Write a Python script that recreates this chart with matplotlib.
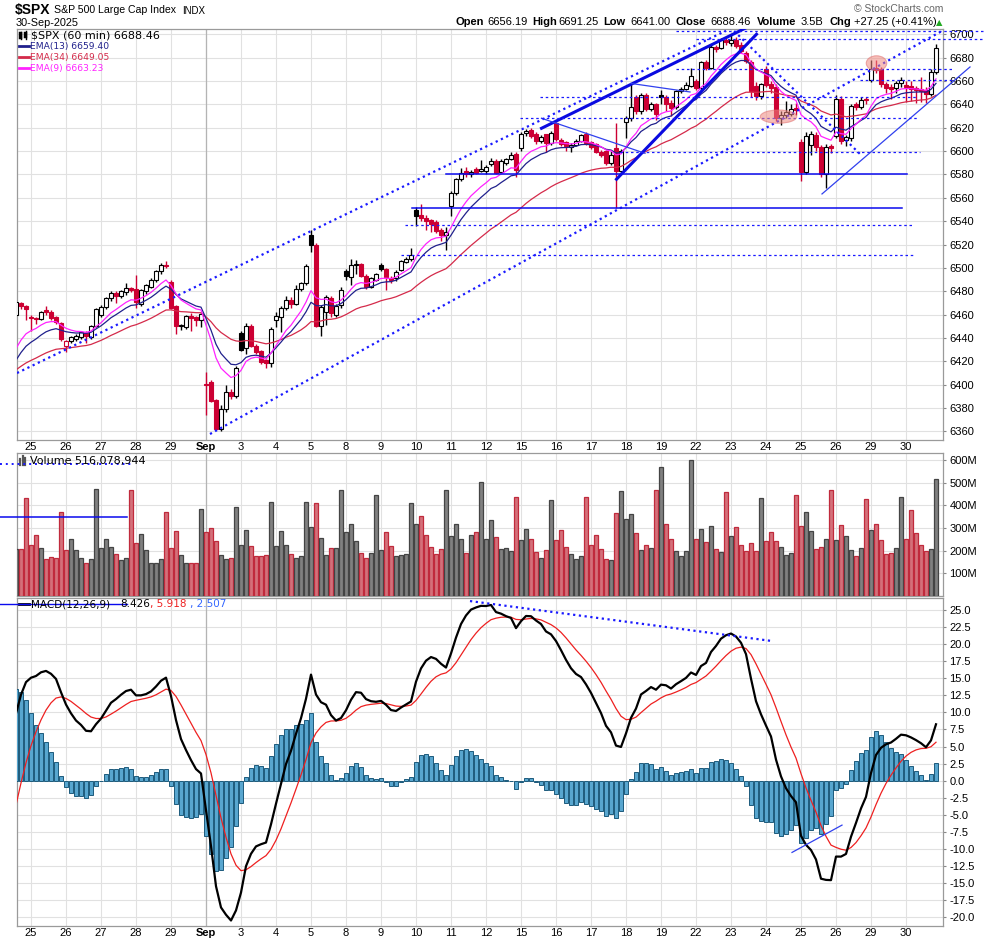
import numpy as np
import matplotlib.pyplot as plt
from matplotlib.lines import Line2D
from matplotlib.patches import Ellipse

plt.rcParams['font.family'] = ['Liberation Sans', 'DejaVu Sans']
plt.rcParams['axes.unicode_minus'] = False

# $SPX 60 min bars: last 3 of 22-Aug, then 25-Aug .. 30-Sep (7 per day)
opens = [6460, 6470, 6467,
         6458, 6457, 6456, 6464, 6462.5, 6458, 6453,
         6433, 6437.7, 6439.5, 6440.5, 6444.5, 6441, 6450.3,
         6460, 6466.8, 6474, 6478.8, 6475.7, 6479, 6483,
         6482, 6469, 6480, 6484, 6490, 6497, 6502.5,
         6487.5, 6467, 6450, 6449.7, 6459, 6458, 6455.4,
         6401, 6402.5, 6387, 6362.5, 6379, 6393.5, 6390.6,
         6444.5, 6431, 6450.5, 6433.4, 6429, 6421, 6418.3,
         6455, 6458.3, 6465.4, 6472.5, 6469, 6481.8, 6486.9,
         6528, 6519.6, 6450.5, 6462, 6474, 6460, 6468,
         6497.6, 6492.5, 6502.5, 6503.3, 6493, 6484, 6490,
         6502.5, 6498.8, 6491, 6491, 6498, 6505.3, 6507.4,
         6549.6, 6545, 6543, 6541, 6539.6, 6532.5, 6528.2,
         6553, 6564, 6576, 6583, 6580, 6584.6, 6583.2,
         6583, 6588.9, 6591.8, 6582, 6590, 6593, 6597.5,
         6602.4, 6615.2, 6618, 6614.6, 6609, 6614.6, 6606.7,
         6623.8, 6609.5, 6608, 6603.5, 6605, 6609, 6614.4,
         6608, 6606, 6599.5, 6600, 6590, 6602.4, 6583,
         6625.2, 6628, 6646, 6634, 6648, 6636, 6640,
         6648, 6646, 6641, 6638, 6651.5, 6653, 6656,
         6660, 6654, 6676, 6671.4, 6689.4, 6688, 6695.5,
         6692.5, 6695, 6691, 6684, 6676, 6656, 6647,
         6670, 6657, 6655, 6628.6, 6631, 6632, 6637,
         6608, 6582, 6605, 6613.8, 6603.8, 6580.4, 6604,
         6613, 6645, 6609.5, 6611, 6640, 6638, 6644,
         6661, 6671, 6670.3, 6657.2, 6655, 6653.8, 6658,
         6656.2, 6656, 6654, 6653, 6652.3, 6648.6, 6668]
highs = [6472, 6471, 6468,
         6460, 6458, 6463, 6467, 6464, 6459, 6454,
         6438, 6442, 6443, 6446, 6446, 6451, 6466,
         6468, 6475, 6480, 6480, 6481, 6487, 6484,
         6494, 6482, 6486, 6491, 6498, 6504, 6506,
         6490, 6468, 6452, 6460, 6461, 6459, 6462,
         6411, 6404, 6388, 6382.6, 6400, 6396, 6416,
         6446, 6452.6, 6452, 6435, 6430, 6422, 6449,
         6462, 6467, 6476, 6475, 6485, 6488, 6503,
         6532.4, 6521, 6468, 6477, 6476, 6469, 6484,
         6499, 6507.4, 6507, 6504, 6495, 6492, 6496,
         6504, 6500, 6493, 6498, 6507, 6509, 6516.8,
         6552, 6554.7, 6545, 6542, 6541, 6534, 6535,
         6566, 6577, 6585.3, 6586, 6584, 6586, 6592.4,
         6588, 6594, 6593, 6593, 6594, 6599.5, 6599,
         6616, 6619, 6620, 6616, 6614, 6615, 6617,
         6625.2, 6611, 6609, 6607, 6610, 6615, 6616,
         6609, 6607, 6601, 6601, 6600, 6623.8, 6602,
         6630, 6657.5, 6648, 6650, 6650, 6642, 6641,
         6652, 6648, 6644, 6652, 6655, 6659, 6671,
         6662, 6677, 6678, 6691, 6691, 6697, 6697,
         6699.4, 6698, 6693, 6686, 6678, 6659, 6658,
         6673, 6660, 6657, 6634, 6643, 6640, 6641,
         6610, 6616, 6617, 6616, 6605, 6606, 6606,
         6648, 6647, 6614, 6640, 6642, 6646, 6646,
         6678, 6678, 6672, 6659, 6657, 6660, 6663,
         6660, 6660, 6656, 6663, 6655, 6670, 6691.25]
lows = [6458, 6465, 6455,
        6446, 6452, 6455, 6460, 6455, 6452, 6437,
        6428, 6436, 6437, 6439, 6436, 6439, 6449,
        6458, 6465, 6472, 6470, 6474, 6477, 6479,
        6466, 6467, 6478, 6483, 6488, 6495, 6500,
        6465, 6443, 6447, 6448, 6446, 6450, 6449,
        6374, 6385, 6361, 6360, 6377, 6388, 6389,
        6429, 6426, 6432, 6426, 6417.5, 6414, 6415,
        6449, 6445, 6464, 6466, 6468, 6480, 6485,
        6513.9, 6449.7, 6442, 6451, 6458, 6458, 6466,
        6490, 6485.4, 6495, 6492, 6481.7, 6483, 6489,
        6497, 6481, 6486.8, 6489, 6497, 6504, 6506,
        6536, 6540, 6532.5, 6531, 6530, 6523.3, 6515,
        6544, 6562, 6574, 6578, 6578, 6580, 6582,
        6580, 6587, 6580, 6581, 6588, 6592, 6578,
        6600, 6613, 6611, 6606, 6607, 6599.5, 6605,
        6609, 6604, 6600, 6599.5, 6604, 6608, 6605,
        6602, 6598, 6595, 6588, 6588, 6551, 6581,
        6611, 6626, 6632, 6632, 6634, 6634, 6627,
        6640, 6634, 6630, 6636, 6650, 6652, 6655,
        6652, 6652, 6669, 6670, 6685, 6687, 6691,
        6690, 6688, 6684, 6675, 6646, 6644, 6645,
        6655, 6650, 6626, 6622.3, 6628, 6630, 6631,
        6574.4, 6580, 6597, 6600, 6578, 6568, 6598,
        6611, 6606, 6604, 6609, 6635, 6636, 6640,
        6659, 6667, 6655, 6650, 6645, 6650, 6655,
        6642.3, 6643, 6641, 6642, 6641, 6647, 6666]
closes = [6471, 6467, 6465,
          6457, 6456, 6462.5, 6462, 6457, 6454, 6439,
          6437.5, 6440.6, 6441.5, 6445, 6441.7, 6450.3, 6465,
          6466.3, 6474, 6478.8, 6475.7, 6480, 6482.5, 6481.4,
          6471, 6481, 6485, 6490, 6497, 6502.5, 6501.9,
          6466, 6450, 6451, 6459, 6457, 6455.4, 6460.5,
          6399.5, 6386, 6362.5, 6379, 6393.5, 6390.6, 6414.5,
          6430, 6450.5, 6433.4, 6427.7, 6419.7, 6418.3, 6448,
          6458.8, 6465.4, 6472.5, 6469, 6481.8, 6486.9, 6501.5,
          6519.6, 6450.5, 6466.8, 6475, 6461, 6467.4, 6481.1,
          6493, 6502.5, 6503.3, 6493, 6484, 6491, 6494.6,
          6498.8, 6492, 6489.5, 6496.8, 6506, 6508, 6511,
          6544.5, 6542.5, 6540, 6538, 6532, 6528.2, 6530.8,
          6564.4, 6575.9, 6581, 6580.5, 6582.4, 6581.5, 6585,
          6586, 6591.8, 6581, 6591.8, 6593, 6596.7, 6584,
          6614.6, 6617.5, 6613, 6609, 6612, 6606.7, 6615.2,
          6610.1, 6606, 6604, 6605, 6609, 6613.8, 6607,
          6603.8, 6599.5, 6597, 6589.6, 6597, 6583.2, 6600.4,
          6628, 6638, 6634, 6648, 6636, 6640, 6631.5,
          6646.5, 6640, 6637, 6651.5, 6653, 6656.6, 6664,
          6654, 6676, 6671.4, 6689.4, 6687.5, 6695, 6693.75,
          6695, 6690.2, 6686, 6677, 6651, 6647, 6657,
          6656.6, 6654, 6628.1, 6631, 6633.5, 6636, 6635.5,
          6582.4, 6613, 6615, 6603.8, 6580.4, 6603.8, 6603,
          6644.5, 6609, 6612.3, 6638.6, 6638, 6643.8, 6643.7,
          6670.3, 6669.5, 6657.2, 6654, 6653, 6658, 6661.2,
          6655, 6653, 6652, 6651, 6648.9, 6668, 6688.46]
volume_m = [206, 206, 434,
            226, 271, 210, 162, 174, 169, 372,
            201, 253, 201, 166, 144, 162, 474,
            210, 253, 218, 187, 157, 166, 466,
            235, 275, 201, 147, 144, 162, 372,
            210, 285, 182, 144, 147, 144, 385,
            281, 301, 241, 182, 162, 169, 394,
            226, 293, 222, 178, 178, 182, 416,
            222, 288, 226, 187, 166, 178, 416,
            306, 409, 257, 182, 210, 213, 466,
            284, 319, 241, 191, 166, 191, 444,
            201, 281, 222, 175, 179, 187, 409,
            319, 354, 268, 218, 187, 209, 466,
            266, 319, 253, 191, 271, 283, 504,
            250, 334, 259, 206, 210, 197, 435,
            246, 294, 250, 193, 166, 203, 422,
            246, 290, 215, 184, 162, 175, 435,
            224, 268, 206, 162, 157, 365, 462,
            338, 360, 276, 201, 224, 210, 466,
            568, 316, 250, 197, 175, 197, 598,
            250, 294, 237, 307, 206, 193, 457,
            263, 303, 224, 197, 232, 197, 431,
            241, 281, 241, 215, 179, 188, 444,
            307, 371, 285, 206, 215, 250, 466,
            246, 312, 263, 201, 175, 210, 426,
            290, 316, 246, 184, 188, 210, 435,
            250, 378, 276, 224, 197, 206, 516]
day_labels = ['25', '26', '27', '28', '29', 'Sep', '3', '4', '5', '8', '9', '10', '11',
              '12', '15', '16', '17', '18', '19', '22', '23', '24', '25', '26', '29', '30']

# indicator values at the first visible bar
ema9_start, ema13_start, ema34_start = 6431.0, 6421.0, 6412.7
ema12_start, ema26_start, signal_start = 6423.5, 6413.65, -3.56

W, H = 990, 941
RED = '#cc0033'
BLUE = '#1a1aff'


def ema(vals, n, start):
    k = 2.0 / (n + 1)
    out = [start]
    for v in vals[1:]:
        out.append(out[-1] + k * (v - out[-1]))
    return np.array(out)


o = np.array(opens, float)
h = np.array(highs, float)
l = np.array(lows, float)
c = np.array(closes, float)
idx = np.arange(len(c))
prev = np.r_[c[0], c[:-1]]
down = c < prev
day_pos = [3 + 7 * d for d in range(len(day_labels))]

ema9 = ema(c, 9, ema9_start)
ema13 = ema(c, 13, ema13_start)
ema34 = ema(c, 34, ema34_start)
macd = ema(c, 12, ema12_start) - ema(c, 26, ema26_start)
signal = ema(macd, 9, signal_start)
hist = macd - signal

fig = plt.figure(figsize=(W / 100, H / 100), dpi=100)


def panel(top, bottom):
    ax = fig.add_axes([17 / W, 1 - bottom / H, 926 / W, (bottom - top) / H])
    ax.set_xlim(0.2, 185.4)
    for s in ax.spines.values():
        s.set_color('#9a9a9a')
        s.set_linewidth(0.9)
    ax.set_xticks(day_pos)
    ax.set_xticklabels(day_labels)
    for t in ax.get_xticklabels():
        if t.get_text() == 'Sep':
            t.set_fontweight('bold')
    ax.tick_params(axis='x', length=0, pad=1.5, labelsize=8)
    ax.tick_params(axis='y', left=False, labelleft=False, right=True, labelright=True,
                   length=2.5, color='#888888', labelsize=8, pad=2)
    ax.grid(True, color='#e1e1e1', lw=0.8)
    ax.set_axisbelow(True)
    ax.axvline(day_pos[5], color='#b4b4b4', lw=0.9, zorder=0.8)
    return ax


def fline(x0, y0, x1, y1, **kw):
    fig.add_artist(Line2D([x0 / W, x1 / W], [1 - y0 / H, 1 - y1 / H],
                          transform=fig.transFigure, **kw))


def ftext(x, y, s, **kw):
    kw.setdefault('va', 'center')
    fig.text(x / W, 1 - y / H, s, **kw)


# ---------------- price panel ----------------
ax = panel(29, 439.5)
ax.set_ylim(6353.1, 6704.5)
ax.set_yticks(np.arange(6360, 6701, 20))

col = np.where(down, RED, 'black')
ax.vlines(idx, l, h, colors=col, lw=1, zorder=2)
face = np.where(c >= o, 'white', col)
bot = np.minimum(o, c)
hgt = np.maximum(np.abs(c - o), 0.8)
ax.bar(idx, hgt, bottom=bot, width=0.72, color=face, edgecolor=col, lw=0.8, zorder=3)

ax.plot(idx, ema34, color='#d42a4a', lw=0.9, zorder=4)
ax.plot(idx, ema13, color='#20208c', lw=0.9, zorder=4)
ax.plot(idx, ema9, color='#ff22ff', lw=0.9, zorder=4)

dot = dict(color=BLUE, lw=1.6, ls=(0, (1, 1.6)), zorder=5)
dash = dict(color=BLUE, lw=0.9, ls=(0, (2, 2.2)), zorder=5)
solid = dict(color='#0a0aee', lw=1.1, zorder=5)
thick = dict(color='#0a0ae0', lw=2.2, zorder=5)
thin = dict(color='#3040ee', lw=0.9, zorder=5)

# trend channel and wedge lines
ax.plot([0.2, 142], [6410, 6703], **dot)
ax.plot([38.8, 185.2], [6357.8, 6702.8], **dot)
ax.plot([142.8, 168.8], [6706.2, 6597.5], **dot)
ax.plot([105.1, 148.1], [6619.5, 6709.9], **thick)
ax.plot([120.1, 148.1], [6575.9, 6700], **thick)
ax.plot([105.1, 125.8], [6628.1, 6598.1], **thin)
ax.plot([123, 134.8], [6657.9, 6650.6], **thin)
ax.plot([161.2, 190.8], [6563.3, 6672], clip_on=False, **thin)

# horizontal levels
ax.plot([132, 193.4], [6702.8, 6702.8], clip_on=False, **dash)
ax.plot([136, 193.4], [6695.7, 6695.7], clip_on=False, **dash)
ax.plot([132, 187.6], [6670, 6670], clip_on=False, **dash)
ax.plot([168.8, 187.6], [6660.6, 6660.6], clip_on=False, **dash)
ax.plot([104.8, 180.2], [6646.7, 6646.7], **dash)
ax.plot([100.8, 180.2], [6628.1, 6628.1], **dash)
ax.plot([120.8, 180.8], [6599, 6599], **dash)
ax.plot([77.8, 179.4], [6536.5, 6536.5], **dash)
ax.plot([77, 179.4], [6510.8, 6510.8], **dash)
ax.plot([86, 178.2], [6580.4, 6580.4], **solid)
ax.plot([79.1, 177.1], [6551, 6551], **solid)

ax.add_patch(Ellipse((152.5, 6629.5), 7.3, 11.4, facecolor='#f08a80', alpha=0.55,
                     edgecolor='#e07070', lw=0.8, zorder=6))
ax.add_patch(Ellipse((172.1, 6675.2), 4.1, 12.8, facecolor='#f08a80', alpha=0.55,
                     edgecolor='#e07070', lw=0.8, zorder=6))

# ---------------- volume panel ----------------
axv = panel(453.3, 596)
axv.tick_params(axis='x', labelbottom=False)
axv.set_ylim(0, 629.5e6)
axv.set_yticks(np.arange(100e6, 600.1e6, 100e6))
axv.set_yticklabels(['%dM' % v for v in range(100, 601, 100)])
vcol = np.where(down, '#d4707a', '#808080')
vedge = np.where(down, '#c02a3c', '#444444')
axv.bar(idx, np.array(volume_m) * 1e6, width=0.88, color=vcol, edgecolor=vedge, lw=0.9, zorder=3)

# ---------------- MACD panel ----------------
axm = panel(597.5, 926)
axm.set_ylim(-21.27, 26.82)
ticks = np.arange(-20, 25.1, 2.5)
axm.set_yticks(ticks)
axm.set_yticklabels(['%.1f' % t for t in ticks])
axm.bar(idx, hist, width=0.88, color='#58a6cf', edgecolor='#1d5b7c', lw=0.7, zorder=3)
axm.plot(idx, signal, color='#ee2020', lw=0.9, zorder=4)
axm.plot(idx, macd, color='black', lw=1.6, zorder=5)
axm.plot([90.8, 151.2], [26.3, 20.45], **dot)
axm.plot([155.2, 165.2], [-10.5, -6.5], **thin)

# ---------------- header texts ----------------
ftext(15, 10, '$SPX', fontsize=10, fontweight='bold')
ftext(54, 10, 'S&P 500 Large Cap Index', fontsize=7.6)
ftext(182, 10.5, 'INDX', fontsize=7)
ftext(16, 22.5, '30-Sep-2025', fontsize=7.8)
ftext(943, 9.5, '\u00a9 StockCharts.com', fontsize=7.5, color='#666666', ha='right')

info = [(455, 'Open', 'bold'), (487, '6656.19', 'normal'), (532, 'High', 'bold'),
        (558, '6691.25', 'normal'), (603, 'Low', 'bold'), (630, '6641.00', 'normal'),
        (676, 'Close', 'bold'), (710, '6688.46', 'normal'), (756.7, 'Volume', 'bold'),
        (801, '3.5B', 'normal'), (830, 'Chg', 'bold'), (854, '+27.25 (+0.41%)', 'normal')]
for x, s, wgt in info:
    ftext(x, 22.3, s, fontsize=8, fontweight=wgt)
ftext(936, 22.5, '\u25b2', fontsize=6, color='#22aa22', family=['DejaVu Sans'])

# price legend
fline(21, 31.5, 21, 38.5, color='black', lw=1)
fline(20, 33, 20, 37, color='black', lw=2.5)
fline(25.5, 31, 25.5, 39, color='black', lw=1)
fline(24.5, 32.5, 24.5, 36, color='black', lw=2.5)
ftext(31.5, 35, '$SPX (60 min) 6688.46', fontsize=8, family=['DejaVu Sans'])
for y, name, colr in [(46.3, 'EMA(13) 6659.40', '#20208c'), (57.3, 'EMA(34) 6649.05', '#d42a4a'),
                      (68.3, 'EMA(9) 6663.23', '#ff22ff')]:
    fline(19, y, 28.5, y, color=colr, lw=2)
    ftext(29.5, y, name, fontsize=6.6, color=colr, family=['DejaVu Sans'])

# volume legend
for xb, yt in [(20, 459), (22.5, 456), (25, 457.5)]:
    fline(xb, yt, xb, 465, color='#555555', lw=1.6)
ftext(30.5, 461, 'Volume 516,078,944', fontsize=8, family=['DejaVu Sans'])

# MACD legend
fline(19, 604.3, 28.5, 604.3, color='black', lw=2)
ftext(31.5, 604.3, 'MACD(12,26,9)', fontsize=7.5, family=['DejaVu Sans'])
ftext(120.5, 604.3, '8.426', fontsize=7.5, family=['DejaVu Sans'])
ftext(150.5, 604.3, ', 5.918', fontsize=7.5, color='#ee2020', family=['DejaVu Sans'])
ftext(190.5, 604.3, ', 2.507', fontsize=7.5, color='#3366ff', family=['DejaVu Sans'])

# annotation lines that spill past the left edge
fline(0, 464, 133, 464, color=BLUE, lw=1.4, ls=(0, (1, 2)))
fline(0, 516.7, 127, 516.7, color='#0a0aee', lw=1.1)
fline(0, 604.3, 127, 604.3, color='#0a0aee', lw=1.0)

fig.savefig('out.png', dpi=100)
